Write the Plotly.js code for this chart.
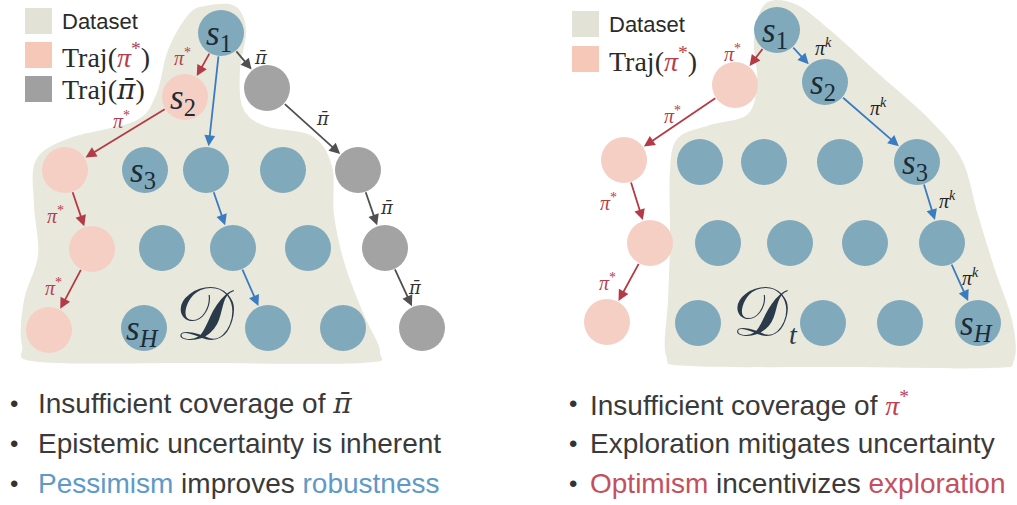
<!DOCTYPE html>
<html><head><meta charset="utf-8">
<script src="https://cdn.plot.ly/plotly-3.0.1.min.js"></script>
<style>html,body{margin:0;padding:0;background:#fff;}#chart{width:1017px;height:505px;}</style>
</head><body><div id="chart"></div>
<script>
// ---------- DATA ----------
// Left panel nodes (state graph)
const leftNodeX = [221, 185, 65, 92, 49, 145, 206, 283, 162, 233, 308, 144, 268, 343, 267, 358, 385, 422];
const leftNodeY = [33, 97, 170, 249, 330, 170, 170, 170, 248, 248, 248, 328, 328, 328, 88, 170, 248, 328];
const leftNodeKind = ['b','p','p','p','p','b','b','b','b','b','b','b','b','b','g','g','g','g'];
const leftNodeLabel = ['1','2','','','','3','','','','','','H','','','','','',''];
const leftRedEdges = [[0,1],[1,2],[2,3],[3,4]];
const leftBlueEdges = [[0,6],[6,9],[9,12]];
const leftGrayEdges = [[0,14],[14,15],[15,16],[16,17]];
const leftRedLabelXY = [[182,57],[121,120],[55,215],[53,287]];
const leftGrayLabelXY = [[261,57],[323,118],[387,207],[415,287]];

// Right panel nodes
const rightNodeX = [777, 735, 825, 624, 700, 764, 840, 917, 650, 718, 790, 865, 942, 607, 698, 823, 900, 978];
const rightNodeY = [30, 85, 82, 160, 162, 162, 162, 162, 243, 243, 243, 243, 243, 322, 323, 323, 323, 323];
const rightNodeKind = ['b','p','b','p','b','b','b','b','p','b','b','b','b','p','b','b','b','b'];
const rightNodeLabel = ['1','','2','','','','','3','','','','','','','','','','H'];
const rightRedEdges = [[0,1],[1,3],[3,8],[8,13]];
const rightBlueEdges = [[0,2],[2,7],[7,12],[12,17]];
const rightRedLabelXY = [[732,53],[672,115],[608,202],[607,282]];
const rightBlueLabelXY = [[823,47],[878,107],[947,200],[970,277]];

// Bullet texts
const PIBAR = '<span style="font-family:DejaVu Serif"><i>π̄</i></span>';
const leftBullets = ['Insufficient coverage of ' + PIBAR,
  'Epistemic uncertainty is inherent',
  '<span style="color:#5e9ac8">Pessimism</span> improves <span style="color:#5e9ac8">robustness</span>'];
const rightBullets = ['Insufficient coverage of <span style="color:#c0404f;font-family:Liberation Serif"><i>π</i><sup>*</sup></span>',
  'Exploration mitigates uncertainty',
  '<span style="color:#c4505e">Optimism</span> incentivizes <span style="color:#c4505e">exploration</span>'];

// ---------- STYLE ----------
const W = 1017, H = 505, R = 23;
const kindColor = {b:'#80a9bb', p:'#f5cfc4', g:'#a3a3a3'};
const beige = '#e9e8dc';
const redC = '#b43a46', blueC = '#3b7cc0', grayC = '#505050';
const serif = 'Liberation Serif, Times New Roman, serif';
const sans = 'Liberation Sans, Arial, sans-serif';

const traces = [];
function nodeTraces(xs, ys, kinds){
  ['b','p','g'].forEach(k=>{
    const idx = kinds.map((v,i)=>v===k?i:-1).filter(i=>i>=0);
    if(!idx.length) return;
    traces.push({type:'scatter', mode:'markers', hoverinfo:'skip',
      x: idx.map(i=>xs[i]), y: idx.map(i=>ys[i]),
      marker:{size:2*R, color:kindColor[k], line:{width:0}}});
  });
}
nodeTraces(leftNodeX, leftNodeY, leftNodeKind);
nodeTraces(rightNodeX, rightNodeY, rightNodeKind);

const ann = [];
function arrows(xs, ys, edges, color, g0, g1){
  edges.forEach(([a,b])=>{
    const dx = xs[b]-xs[a], dy = ys[b]-ys[a], L = Math.hypot(dx,dy);
    const ux = dx/L, uy = dy/L;
    ann.push({xref:'x', yref:'y', axref:'x', ayref:'y',
      x: xs[b]-ux*g1, y: ys[b]-uy*g1, ax: xs[a]+ux*g0, ay: ys[a]+uy*g0,
      text:'', showarrow:true, arrowhead:2, arrowsize:1.2, arrowwidth:1.8,
      arrowcolor:color, standoff:0, startstandoff:0});
  });
}
arrows(leftNodeX, leftNodeY, leftRedEdges, redC, 22, 24);
arrows(leftNodeX, leftNodeY, leftBlueEdges, blueC, 22, 24);
arrows(leftNodeX, leftNodeY, leftGrayEdges, grayC, 22, 24);
arrows(rightNodeX, rightNodeY, rightRedEdges, redC, 22, 24);
arrows(rightNodeX, rightNodeY, rightBlueEdges, blueC, 22, 24);

function labels(list, txt, color, size, fam){
  list.forEach(([x,y])=>ann.push({xref:'x', yref:'y', x, y, text:txt, showarrow:false,
    font:{family:fam||serif, size, color}}));
}
labels(leftRedLabelXY, '<i>π</i><sup>*</sup>', '#b4404c', 20);
labels(rightRedLabelXY, '<i>π</i><sup>*</sup>', '#b4404c', 20);
labels(leftGrayLabelXY, '<i>π̄</i>', '#333333', 18, 'DejaVu Serif, serif');
labels(rightBlueLabelXY, '<i>π</i><sup><i>k</i></sup>', '#222222', 20);

function stateLabels(xs, ys, labs){
  labs.forEach((l,i)=>{ if(!l) return;
    const sub = l==='H' ? '<i>H</i>' : l;
    ann.push({xref:'x', yref:'y', x:xs[i]-2, y:ys[i]+2, text:'<i>s</i><sub>'+sub+'</sub>', showarrow:false,
      font:{family:serif, size:35, color:'#1c2b38'}});
  });
}
stateLabels(leftNodeX, leftNodeY, leftNodeLabel);
stateLabels(rightNodeX, rightNodeY, rightNodeLabel);

// Dataset symbols
ann.push({xref:'x', yref:'y', x:205, y:314, text:'𝒟', showarrow:false, font:{family:serif, size:74, color:'#2a3a4a'}});
ann.push({xref:'x', yref:'y', x:760, y:312, text:'𝒟', showarrow:false, font:{family:serif, size:70, color:'#2a3a4a'}});
ann.push({xref:'x', yref:'y', x:793, y:334, text:'<i>t</i>', showarrow:false, font:{family:serif, size:28, color:'#2a3a4a'}});

// Legends
const shapes = [];
function legend(x0, items){
  items.forEach(([y0, color, txt, fam, size])=>{
    shapes.push({type:'rect', xref:'x', yref:'y', x0, x1:x0+27, y0, y1:y0+26, fillcolor:color, line:{width:0}, layer:'below'});
    ann.push({xref:'x', yref:'y', x:x0+35, y:y0+13, xanchor:'left', text:txt, showarrow:false, font:{family:fam, size, color:'#2a2a2a'}});
  });
}
legend(25, [[8,'#e2e2d6','Dataset',sans,22],[42,'#f6c8b8','Traj(<span style="color:#b4404c"><i>π</i><sup>*</sup></span>)',serif,28],[76,'#a0a0a0','Traj(' + PIBAR + ')',serif,28]]);
legend(572, [[11,'#e2e2d6','Dataset',sans,22],[46,'#f6c8b8','Traj(<span style="color:#b4404c"><i>π</i><sup>*</sup></span>)',serif,28]]);

// Bullets
const lineY = [403, 443, 483];
function bullets(xb, xt, list){
  list.forEach((t,i)=>{
    ann.push({xref:'x', yref:'y', x:xb, y:lineY[i], text:'•', showarrow:false, font:{family:sans, size:24, color:'#333'}});
    ann.push({xref:'x', yref:'y', x:xt, y:lineY[i], xanchor:'left', text:t, showarrow:false, font:{family:sans, size:28, color:'#3a3a3a'}});
  });
}
bullets(14, 36, leftBullets);
bullets(573, 588, rightBullets);

// Dataset blobs
function smoothPath(pts){
  const n = pts.length; let d = `M${pts[0][0]},${pts[0][1]}`;
  for(let i=0;i<n;i++){
    const p0=pts[(i-1+n)%n], p1=pts[i], p2=pts[(i+1)%n], p3=pts[(i+2)%n];
    const c1=[p1[0]+(p2[0]-p0[0])/6, p1[1]+(p2[1]-p0[1])/6];
    const c2=[p2[0]-(p3[0]-p1[0])/6, p2[1]-(p3[1]-p1[1])/6];
    d += ` C${c1[0].toFixed(1)},${c1[1].toFixed(1)} ${c2[0].toFixed(1)},${c2[1].toFixed(1)} ${p2[0]},${p2[1]}`;
  }
  return d+' Z';
}
const leftBlob = [[205,6],[235,6],[246,30],[240,70],[243,108],[265,126],[312,136],[332,166],[334,215],[345,265],[364,315],[380,352],[362,363],[200,363],[40,362],[22,345],[24,300],[38,255],[34,205],[36,160],[70,138],[135,121],[156,95],[168,50],[188,15]];
const rightBlob = [[765,4],[795,4],[830,30],[880,75],[930,120],[962,160],[978,215],[995,270],[1012,320],[1014,360],[990,368],[840,367],[690,366],[666,355],[668,300],[670,240],[670,170],[678,138],[710,125],[748,114],[757,80],[754,40]];
shapes.push({type:'path', xref:'x', yref:'y', path:smoothPath(leftBlob), fillcolor:beige, line:{width:0}, layer:'below'});
shapes.push({type:'path', xref:'x', yref:'y', path:smoothPath(rightBlob), fillcolor:beige, line:{width:0}, layer:'below'});

const layout = {width:W, height:H, margin:{l:0,r:0,t:0,b:0}, showlegend:false,
  paper_bgcolor:'#ffffff', plot_bgcolor:'#ffffff',
  xaxis:{range:[0,W], visible:false, fixedrange:true},
  yaxis:{range:[H,0], visible:false, fixedrange:true},
  shapes, annotations:ann};
Plotly.newPlot('chart', traces, layout, {staticPlot:true});
</script></body></html>
